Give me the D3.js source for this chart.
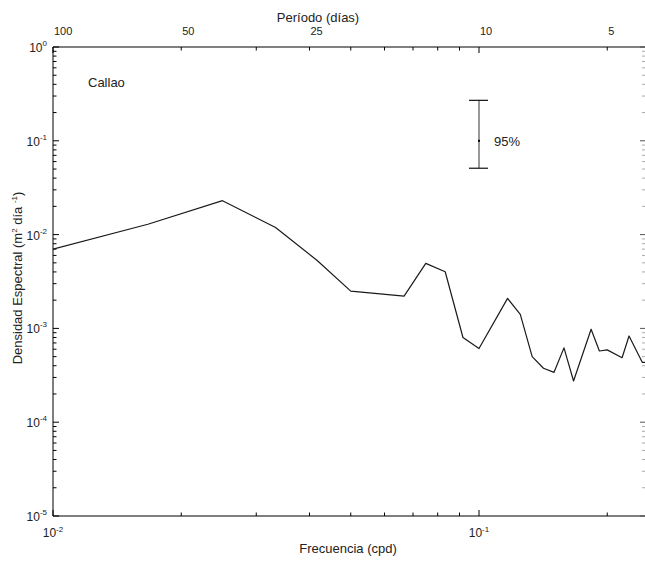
<!DOCTYPE html>
<html>
<head>
<meta charset="utf-8">
<script src="https://cdn.jsdelivr.net/npm/d3@7"></script>
<style>
  body { margin: 0; background: #fff; }
  text { font-family: "Liberation Sans", Arial, sans-serif; fill: #222; }
</style>
</head>
<body>
<div id="chart"></div>
<script>
// spectrum data (cpd, m^2 dia^-1)
var freq = [0.01, 0.0167, 0.025, 0.0333, 0.0417, 0.05, 0.0667, 0.075, 0.0833, 0.0917, 0.1,
    0.1167, 0.125, 0.1333, 0.1417, 0.15, 0.1583, 0.1667, 0.1833, 0.1917, 0.2, 0.2167, 0.225, 0.2417, 0.25];
var density = [7.0e-3, 1.29e-2, 2.30e-2, 1.19e-2, 5.3e-3, 2.5e-3, 2.21e-3, 4.94e-3, 4.02e-3, 8.0e-4, 6.1e-4,
    2.09e-3, 1.41e-3, 5.0e-4, 3.76e-4, 3.40e-4, 6.2e-4, 2.75e-4, 9.8e-4, 5.74e-4, 5.9e-4, 4.87e-4, 8.3e-4, 4.35e-4, 4.33e-4];

// top axis: period labels (days)
var periodLabels = [100, 50, 25, 10, 5];
// bottom / left decade labels (exponents)
var xExponents = [-2, -1];
var yExponents = [0, -1, -2, -3, -4, -5];

// 95% confidence bar
var ciFreq = 0.1;
var ciCenter = 0.1;
var ciLow = 0.051;
var ciHigh = 0.27;

var svgWidth = 645;
var svgHeight = 561;
var margin = { top: 47, right: 0, bottom: 45, left: 53 };
var width = svgWidth - margin.left - margin.right;
var height = svgHeight - margin.top - margin.bottom;

var svg = d3.select("#chart")
    .append("svg")
    .attr("width", svgWidth)
    .attr("height", svgHeight);

var chartGroup = svg.append("g")
    .attr("transform", `translate(${margin.left}, ${margin.top})`);

var xScale = d3.scaleLog()
    .domain([0.01, Math.pow(10, -2 + width / 426)])
    .range([0, width]);

var yScale = d3.scaleLog()
    .domain([1e-5, 1])
    .range([height, 0]);

function isDecade(v) {
    var l = Math.log10(v);
    return Math.abs(l - Math.round(l)) < 1e-6;
}

var xTicks = xScale.ticks().filter(d => d <= xScale.domain()[1]);
var yTicks = yScale.ticks();

// clip for the line
svg.append("defs").append("clipPath")
    .attr("id", "plotClip")
    .append("rect")
    .attr("width", width)
    .attr("height", height);

// bottom axis
var bottomAxis = chartGroup.append("g").attr("transform", `translate(0, ${height})`);
bottomAxis.append("line").attr("x1", 0).attr("x2", width)
    .attr("stroke", "#000").attr("stroke-width", 1);
bottomAxis.selectAll("line.tick")
    .data(xTicks)
    .enter()
    .append("line")
    .attr("class", "tick")
    .attr("x1", d => xScale(d)).attr("x2", d => xScale(d))
    .attr("y1", 0).attr("y2", d => isDecade(d) ? -6 : -3.5)
    .attr("stroke", "#000");

var xLab = bottomAxis.selectAll("text")
    .data(xExponents)
    .enter()
    .append("text")
    .attr("x", d => xScale(Math.pow(10, d)))
    .attr("y", 21)
    .attr("text-anchor", "middle")
    .attr("font-size", "12px");
xLab.append("tspan").text("10");
xLab.append("tspan").attr("dy", -5).attr("font-size", "8px").text(d => d);

// top axis (period)
var topAxis = chartGroup.append("g");
topAxis.append("line").attr("x1", 0).attr("x2", width)
    .attr("stroke", "#000").attr("stroke-width", 1);
topAxis.selectAll("line.tick")
    .data(xTicks)
    .enter()
    .append("line")
    .attr("class", "tick")
    .attr("x1", d => xScale(d)).attr("x2", d => xScale(d))
    .attr("y1", 0).attr("y2", d => isDecade(d) ? 6 : 3.5)
    .attr("stroke", "#000");
topAxis.selectAll("text.period")
    .data(periodLabels)
    .enter()
    .append("text")
    .attr("class", "period")
    .attr("x", d => xScale(1 / d) + 1)
    .attr("y", -12)
    .attr("font-size", "11px")
    .text(d => d);

// left axis
var leftAxis = chartGroup.append("g");
leftAxis.append("line").attr("y1", 0).attr("y2", height)
    .attr("stroke", "#000").attr("stroke-width", 1);
leftAxis.selectAll("line.tick")
    .data(yTicks)
    .enter()
    .append("line")
    .attr("class", "tick")
    .attr("y1", d => yScale(d)).attr("y2", d => yScale(d))
    .attr("x1", 0).attr("x2", d => isDecade(d) ? 6 : 3.5)
    .attr("stroke", "#000");
var yLab = leftAxis.selectAll("text")
    .data(yExponents)
    .enter()
    .append("text")
    .attr("x", -6)
    .attr("y", d => yScale(Math.pow(10, d)) + 5)
    .attr("text-anchor", "end")
    .attr("font-size", "12px");
yLab.append("tspan").text("10");
yLab.append("tspan").attr("dy", -6).attr("font-size", "8px").text(d => d);

// right axis ticks (faint)
chartGroup.append("g")
    .selectAll("line")
    .data(yTicks)
    .enter()
    .append("line")
    .attr("y1", d => yScale(d)).attr("y2", d => yScale(d))
    .attr("x1", width).attr("x2", d => width - (isDecade(d) ? 5 : 3))
    .attr("stroke", d => isDecade(d) ? "#555" : "#aaa");

// spectrum line
var specData = freq.map((f, i) => ({ f: f, v: density[i] }));
var lineGen = d3.line()
    .x(d => xScale(d.f))
    .y(d => yScale(d.v));

chartGroup.append("path")
    .datum(specData)
    .attr("clip-path", "url(#plotClip)")
    .attr("d", lineGen)
    .attr("fill", "none")
    .attr("stroke", "#1a1a1a")
    .attr("stroke-width", 1.2)
    .attr("stroke-linejoin", "round");

// confidence interval
var ciX = xScale(ciFreq);
chartGroup.append("line")
    .attr("x1", ciX).attr("x2", ciX)
    .attr("y1", yScale(ciHigh)).attr("y2", yScale(ciLow))
    .attr("stroke", "#777").attr("stroke-width", 1.5);
[ciHigh, ciLow].forEach(function (v) {
    chartGroup.append("line")
        .attr("x1", ciX - 10).attr("x2", ciX + 9)
        .attr("y1", yScale(v)).attr("y2", yScale(v))
        .attr("stroke", "#111").attr("stroke-width", 1.2);
});
chartGroup.append("rect")
    .attr("x", ciX - 1).attr("y", yScale(ciCenter) - 1)
    .attr("width", 2).attr("height", 2)
    .attr("fill", "#000");
chartGroup.append("text")
    .attr("x", ciX + 15)
    .attr("y", yScale(ciCenter) + 5)
    .attr("font-size", "13px")
    .text("95%");

// station label
chartGroup.append("text")
    .attr("x", 35)
    .attr("y", 40)
    .attr("font-size", "13px")
    .text("Callao");

// axis titles
svg.append("text")
    .attr("x", 318)
    .attr("y", 22)
    .attr("text-anchor", "middle")
    .attr("font-size", "13px")
    .text("Período (días)");

svg.append("text")
    .attr("x", 348)
    .attr("y", 553)
    .attr("text-anchor", "middle")
    .attr("font-size", "13px")
    .text("Frecuencia (cpd)");

var yTitle = svg.append("text")
    .attr("transform", "translate(22, 278) rotate(-90)")
    .attr("text-anchor", "middle")
    .attr("font-size", "13px");
yTitle.append("tspan").text("Densidad Espectral (m");
yTitle.append("tspan").attr("dy", -5).attr("font-size", "8px").text("2");
yTitle.append("tspan").attr("dy", 5).text(" día ");
yTitle.append("tspan").attr("dy", -5).attr("font-size", "8px").text("-1");
yTitle.append("tspan").attr("dy", 5).text(")");
</script>
</body>
</html>
